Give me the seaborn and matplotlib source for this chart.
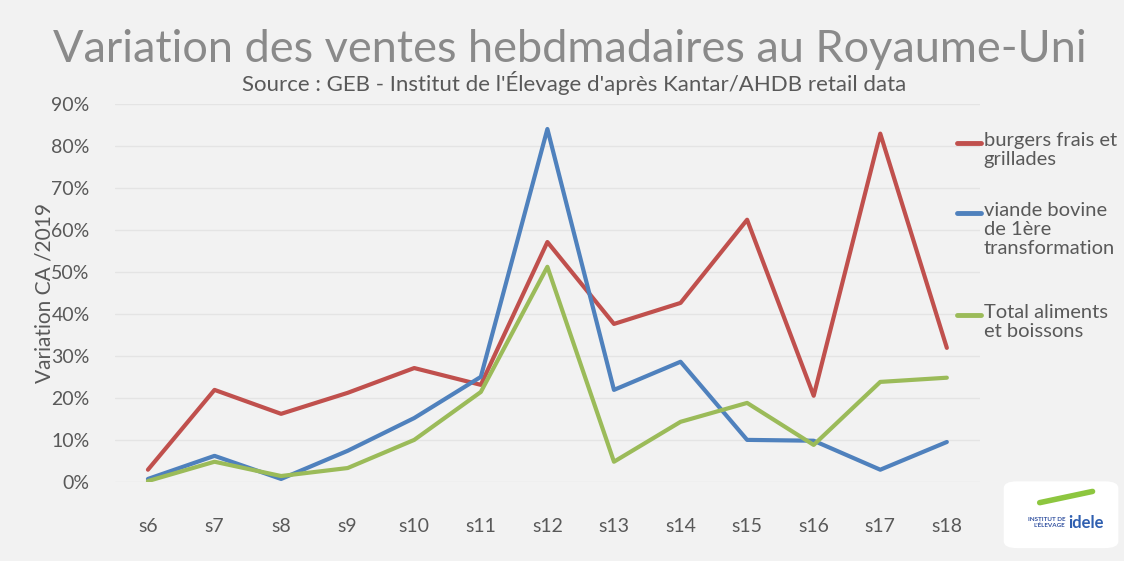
import pandas as pd
import seaborn as sns
import matplotlib.pyplot as plt
from matplotlib.ticker import PercentFormatter
from matplotlib.lines import Line2D
from matplotlib.patches import FancyBboxPatch


weeks = ['s6', 's7', 's8', 's9', 's10', 's11', 's12', 's13', 's14', 's15', 's16', 's17', 's18']
burgers = [2.9, 21.9, 16.2, 21.2, 27.1, 23.1, 57.1, 37.6, 42.6, 62.4, 20.5, 82.9, 31.9]
viande = [0.7, 6.2, 0.7, 7.4, 15.2, 25.0, 84.0, 21.9, 28.6, 10.0, 9.8, 2.9, 9.5]
total = [0.2, 4.8, 1.4, 3.3, 10.0, 21.4, 51.2, 4.8, 14.3, 18.8, 8.8, 23.8, 24.8]
series_names = ['burgers frais et\ngrillades', 'viande bovine\nde 1ère\ntransformation',
                'Total aliments\net boissons']
colors = ['#c0504d', '#4f81bd', '#9bbb59']

df = pd.DataFrame({'semaine': weeks * 3,
                   'variation': burgers + viande + total,
                   'serie': [series_names[0]] * 13 + [series_names[1]] * 13 + [series_names[2]] * 13})

sns.set_style('white')
plt.rcParams['font.family'] = ['Lato', 'DejaVu Sans']
grey = '#595959'
bg = '#f2f2f2'

fig = plt.figure(figsize=(11.24, 5.61), dpi=100, facecolor=bg)
ax = fig.add_axes([0.102, 0.141, 0.77, 0.674], facecolor=bg)

sns.lineplot(data=df, x='semaine', y='variation', hue='serie', palette=colors,
             linewidth=3, sort=False, ax=ax, legend=False)

ax.set_ylim(0, 90)
ax.set_xlim(-0.5, 12.5)
ax.set_yticks(range(0, 91, 10))
ax.yaxis.set_major_formatter(PercentFormatter(decimals=0))
ax.grid(axis='y', color='#e4e4e4', linewidth=1)
ax.set_axisbelow(True)
for s in ax.spines.values():
    s.set_visible(False)
ax.tick_params(axis='x', length=0, pad=26, labelsize=14, labelcolor=grey)
ax.tick_params(axis='y', length=0, pad=18, labelsize=14, labelcolor=grey)
ax.set_xlabel('')
ax.set_ylabel('Variation CA /2019', fontsize=15, color=grey, labelpad=-2)

fig.text(0.507, 0.912, 'Variation des ventes hebdmadaires au Royaume-Uni',
         ha='center', va='center', fontsize=32.5, color='#8a8a8a', fontweight='normal')
fig.text(0.511, 0.852, "Source : GEB - Institut de l'Élevage d'après Kantar/AHDB retail data",
         ha='center', va='center', fontsize=16, color=grey)

# legend on the right, handle level with the first line of each label
leg_y = [1 - 143 / 561, 1 - 213 / 561, 1 - 315 / 561]
for name, c, y in zip(series_names, colors, leg_y):
    fig.add_artist(Line2D([0.851, 0.873], [y, y], transform=fig.transFigure,
                          color=c, linewidth=3.5, solid_capstyle='round'))
    fig.text(0.875, y + 0.020, name, ha='left', va='top', fontsize=14.5,
             color=grey, linespacing=1.15)

# logo
fig.add_artist(FancyBboxPatch((0.905, 0.035), 0.078, 0.095, transform=fig.transFigure,
                              boxstyle='round,pad=0.012', facecolor='white', edgecolor='none'))
fig.add_artist(Line2D([0.925, 0.972], [0.104, 0.124], transform=fig.transFigure,
                      color='#8dc63f', linewidth=4, solid_capstyle='round'))
fig.text(0.948, 0.068, "INSTITUT DE\nL'ÉLEVAGE", fontsize=4.5, color='#2f4f9f',
         ha='right', va='center', fontweight='bold')
fig.text(0.950, 0.068, 'idele', fontsize=12, color='#2f5fb0', ha='left', va='center',
         fontweight='bold')

fig.savefig('out.png', dpi=100, facecolor=bg)
